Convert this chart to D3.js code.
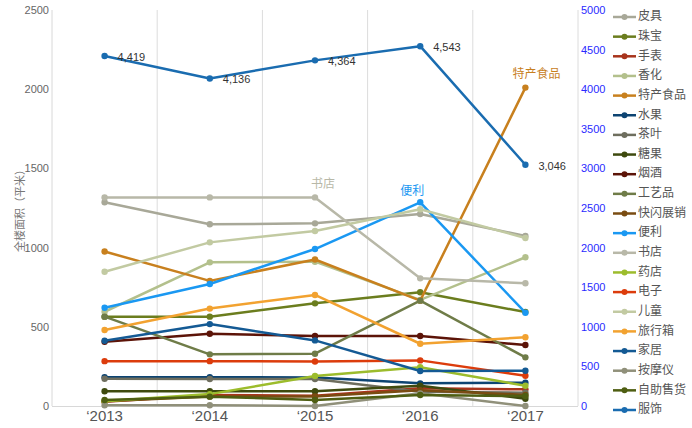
<!DOCTYPE html>
<html><head><meta charset="utf-8">
<script src="https://cdn.jsdelivr.net/npm/d3@7"></script>
<style>body{margin:0;background:#fff}svg{display:block}</style>
</head><body>
<svg id="c" width="692" height="428"></svg>
<script>
const years = ["2013","2014","2015","2016","2017"];
const names = ["皮具","珠宝","手表","香化","特产食品","水果","茶叶","糖果","烟酒","工艺品","快闪展销","便利","书店","药店","电子","儿童","旅行箱","家居","按摩仪","自助售货","服饰"];
const colors = ["#a8a898","#6b7d1e","#a8341c","#b3c08c","#c8801e","#0d4472","#6e6e5e","#3e4a0e","#5c1408","#6f7c48","#7a4c12","#1a98f2","#b8b8a8","#9cbc2c","#dc3c0c","#c2caa2","#f2a230","#145a94","#90907a","#4e5e12","#1a6cb0"];
const piju = [1286,1147,1153,1212,1073];
const zhubao = [564,564,648,718,593];
const shoubiao = [27,70,65,112,105];
const xianghua = [595,907,911,670,939];
const techan = [975,790,925,665,2010];
const shuiguo = [182,182,180,143,147];
const chaye = [172,170,170,90,84];
const tangguo = [93,93,93,128,46];
const yanjiu = [405,456,442,442,385];
const gongyi = [564,326,330,665,307];
const kuaishan = [30,60,60,100,70];
const bianli = [620,770,991,1286,589];
const shudian = [1317,1317,1317,806,775];
const yaodian = [30,75,189,245,128];
const dianzi = [283,283,281,288,191];
const ertong = [848,1033,1105,1242,1061];
const lvxing = [480,615,701,393,434];
const jiaju = [412,517,414,221,223];
const anmo = [5,5,0,80,0];
const zizhu = [38,59,38,69,63];
const fushi = [4419,4136,4364,4543,3046];
const seriesValues = [piju,zhubao,shoubiao,xianghua,techan,shuiguo,chaye,tangguo,yanjiu,gongyi,kuaishan,bianli,shudian,yaodian,dianzi,ertong,lvxing,jiaju,anmo,zizhu,fushi];
const rightAxisSeries = ["服饰"];
const leftTicks = [0,500,1000,1500,2000,2500];
const rightTicks = [0,500,1000,1500,2000,2500,3000,3500,4000,4500,5000];
const yTitle = "全楼面积（平米）";
const annotations = [{name:"特产食品", yearIdx:4, dx:11, dy:-13},{name:"书店", yearIdx:2, dx:8, dy:-13},{name:"便利", yearIdx:3, dx:-8, dy:-11}];

const svg = d3.select("#c");
const L = 52, R = 578, T = 10, B = 406;
const x = d3.scaleBand().domain(years).range([L, R]);
const cx = d => x(d) + x.bandwidth()/2;
const yL = d3.scaleLinear().domain([0,2500]).range([B,T]);
const yR = d3.scaleLinear().domain([0,5000]).range([B,T]);

// grid
const bounds = years.slice(1).map(d => x(d)).concat([R]);
svg.append("g").selectAll("line").data(bounds).join("line")
  .attr("x1", d=>d).attr("x2", d=>d).attr("y1", T).attr("y2", B)
  .attr("stroke", "#dcdcdc").attr("stroke-width", 1);
svg.append("line").attr("x1", L).attr("x2", L).attr("y1", T).attr("y2", B).attr("stroke","#d8d8d8");
svg.append("line").attr("x1", L).attr("x2", R).attr("y1", B+0.5).attr("y2", B+0.5).attr("stroke","#d8d8d8");

// axes
const ga = svg.append("g").attr("transform",`translate(${L},0)`)
  .call(d3.axisLeft(yL).tickValues(leftTicks).tickSize(0).tickPadding(3).tickFormat(d3.format("d")));
ga.select(".domain").remove();
ga.selectAll("text").attr("font-family","Liberation Sans, Arial").attr("font-size",11).attr("fill","#666");
const gr = svg.append("g").attr("transform",`translate(${R},0)`)
  .call(d3.axisRight(yR).tickValues(rightTicks).tickSize(0).tickPadding(3).tickFormat(d3.format("d")));
gr.select(".domain").remove();
gr.selectAll("text").attr("font-family","Liberation Sans, Arial").attr("font-size",11).attr("fill","#2a2aff");
const gx = svg.append("g").attr("transform",`translate(0,${B})`)
  .call(d3.axisBottom(x).tickSize(0).tickPadding(4).tickFormat(d=>"\u2018"+d));
gx.select(".domain").remove();
gx.selectAll("text").attr("font-family","Liberation Sans, Arial").attr("font-size",15).attr("fill","#555");

svg.append("text").attr("transform","translate(21,208) rotate(-90)")
  .attr("text-anchor","middle").attr("dominant-baseline","middle")
  .attr("font-family","Noto Sans CJK SC").attr("font-size",11).attr("fill","#777").text(yTitle);

// series
const line = d3.line();
names.forEach((n,i) => {
  const ys = rightAxisSeries.includes(n) ? yR : yL;
  const pts = seriesValues[i].map((v,j) => [cx(years[j]), ys(v)]);
  const g = svg.append("g");
  g.append("path").attr("d", line(pts)).attr("fill","none").attr("stroke", colors[i]).attr("stroke-width",2.5).attr("stroke-linejoin","round");
  g.selectAll("circle").data(pts).join("circle").attr("cx",d=>d[0]).attr("cy",d=>d[1]).attr("r",3.2).attr("fill",colors[i]);
  if (rightAxisSeries.includes(n)) {
    g.selectAll("text").data(seriesValues[i]).join("text")
      .attr("x",(d,j)=>cx(years[j])+13).attr("y",d=>ys(d)+2)
      .attr("dominant-baseline","middle")
      .attr("font-family","Liberation Sans, Arial").attr("font-size",11).attr("fill","#333")
      .text(d=>d3.format(",")(d));
  }
});

// annotations
annotations.forEach(a => {
  const i = names.indexOf(a.name);
  const v = seriesValues[i][a.yearIdx];
  svg.append("text").attr("x", cx(years[a.yearIdx]) + a.dx).attr("y", yL(v) + a.dy)
    .attr("text-anchor","middle").attr("dominant-baseline","middle")
    .attr("font-family","Noto Sans CJK SC").attr("font-size",12).attr("fill",colors[i]).text(a.name);
});

// legend
const lg = svg.append("g");
names.forEach((n,i) => {
  const yy = 17 + i*19.65;
  lg.append("line").attr("x1",613).attr("x2",636).attr("y1",yy).attr("y2",yy).attr("stroke",colors[i]).attr("stroke-width",2.5);
  lg.append("circle").attr("cx",624.5).attr("cy",yy).attr("r",3).attr("fill",colors[i]);
  lg.append("text").attr("x",638).attr("y",yy).attr("dominant-baseline","middle")
    .attr("font-family","Noto Sans CJK SC").attr("font-size",12).attr("fill","#555").text(n);
});
</script>
</body></html>
